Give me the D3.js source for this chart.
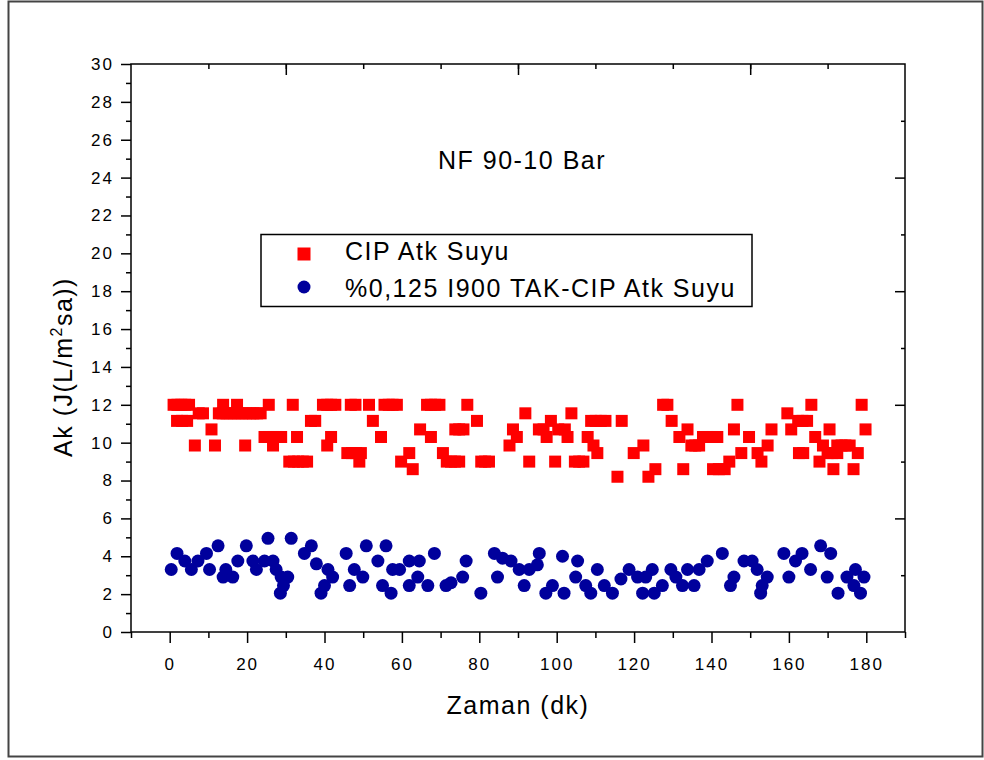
<!DOCTYPE html>
<html>
<head>
<meta charset="utf-8">
<script src="https://cdn.jsdelivr.net/npm/d3@7"></script>
<style>
    body { margin: 0; background: #fff; }
    svg text { font-family: "Liberation Sans", Arial, sans-serif; fill: #000; }
</style>
</head>
<body>
<svg id="chart" width="984" height="760"></svg>
<script>
// tick labels
const xTickLabels = [0, 20, 40, 60, 80, 100, 120, 140, 160, 180];
const yTickLabels = [0, 2, 4, 6, 8, 10, 12, 14, 16, 18, 20, 22, 24, 26, 28, 30];

const chartTitle = "NF 90-10 Bar";
const seriesNames = ["CIP Atk Suyu", "%0,125 I900 TAK-CIP Atk Suyu"];

// CIP Atk Suyu : [zaman (dk), akı]
const cipData = [
    [1, 12.0], [2, 12.0], [3, 12.0], [4, 12.0], [5, 12.0], [13.8, 12.0], [17.4, 12.0], [25.6, 12.0],
    [31.8, 12.0], [39.6, 12.0], [40.7, 12.0], [41.7, 12.0], [42.8, 12.0], [46.8, 12.0], [48, 12.0],
    [51.5, 12.0], [55.5, 12.0], [56.6, 12.0], [57.6, 12.0], [58.7, 12.0], [66.5, 12.0], [67.5, 12.0],
    [68.6, 12.0], [69.7, 12.0], [76.9, 12.0], [127.5, 12.0], [128.6, 12.0], [146.7, 12.0], [165.8, 12.0],
    [178.8, 12.0],
    [7.5, 11.55], [8.6, 11.55], [12.7, 11.55], [13.7, 11.55], [14.7, 11.55], [15.7, 11.55], [16.7, 11.55],
    [17.7, 11.55], [18.7, 11.55], [19.7, 11.55], [20.7, 11.55], [21.6, 11.55], [22.6, 11.55], [23.5, 11.55],
    [91.9, 11.55], [103.8, 11.55], [159.6, 11.55],
    [1.9, 11.15], [3.2, 11.15], [4.5, 11.15], [36.5, 11.15], [37.6, 11.15], [52.5, 11.15], [79.4, 11.15],
    [98.5, 11.15], [108.9, 11.15], [110.1, 11.15], [111.4, 11.15], [112.6, 11.15], [116.8, 11.15],
    [129.7, 11.15], [162.4, 11.15], [163.5, 11.15], [164.7, 11.15],
    [10.8, 10.7], [64.7, 10.7], [73.8, 10.7], [74.8, 10.7], [75.9, 10.7], [88.7, 10.7], [95.4, 10.7],
    [96.6, 10.7], [100.4, 10.7], [102.1, 10.7], [133.8, 10.7], [145.8, 10.7], [155.5, 10.7], [160.6, 10.7],
    [170.5, 10.7], [179.8, 10.7],
    [24.5, 10.3], [25.6, 10.3], [26.7, 10.3], [27.7, 10.3], [28.8, 10.3], [32.9, 10.3], [41.7, 10.3],
    [54.6, 10.3], [67.5, 10.3], [89.7, 10.3], [97.4, 10.3], [102.8, 10.3], [108, 10.3], [131.7, 10.3],
    [137.8, 10.3], [139, 10.3], [140.3, 10.3], [141.5, 10.3], [149.7, 10.3], [166.8, 10.3],
    [6.5, 9.85], [11.7, 9.85], [19.5, 9.85], [26.7, 9.85], [40.7, 9.85], [87.8, 9.85], [109.5, 9.85],
    [122.4, 9.85], [134.8, 9.85], [135.8, 9.85], [136.8, 9.85], [154.5, 9.85], [168.8, 9.85], [172.5, 9.85],
    [173.6, 9.85], [174.6, 9.85], [175.7, 9.85],
    [45.9, 9.45], [47.1, 9.45], [48.2, 9.45], [49.4, 9.45], [61.9, 9.45], [70.6, 9.45], [110.5, 9.45],
    [119.9, 9.45], [147.7, 9.45], [151.9, 9.45], [162.6, 9.45], [163.7, 9.45], [170, 9.45], [171.2, 9.45],
    [172.5, 9.45], [177.8, 9.45],
    [30.9, 9.0], [32.1, 9.0], [33.2, 9.0], [34.4, 9.0], [35.5, 9.0], [49, 9.0], [59.8, 9.0], [71.6, 9.0],
    [72.7, 9.0], [73.7, 9.0], [74.8, 9.0], [80.5, 9.0], [81.5, 9.0], [82.5, 9.0], [92.9, 9.0], [99.6, 9.0],
    [104.7, 9.0], [105.8, 9.0], [106.9, 9.0], [144.6, 9.0], [152.9, 9.0], [167.9, 9.0],
    [62.8, 8.6], [125.5, 8.6], [132.7, 8.6], [140.4, 8.6], [141.9, 8.6], [143.4, 8.6], [171.5, 8.6],
    [176.7, 8.6],
    [115.7, 8.2], [123.7, 8.2]
];

// %0,125 I900 TAK-CIP Atk Suyu : [zaman (dk), akı]
const takData = [
    [0.4, 3.3], [1.9, 4.15], [3.9, 3.75], [5.6, 3.3], [7.3, 3.75], [9.5, 4.15], [10.3, 3.3], [12.5, 4.55],
    [13.8, 2.9], [14.5, 3.3], [16.3, 2.9], [17.6, 3.75], [19.8, 4.55], [21.5, 3.75], [22.4, 3.3],
    [24.5, 3.75], [25.4, 4.95], [26.7, 3.75], [27.5, 3.3], [28.8, 2.9], [28.6, 2.05], [29.4, 2.45],
    [30.5, 2.9], [31.4, 4.95], [34.8, 4.15], [36.6, 4.55], [37.9, 3.6], [39.1, 2.05], [40, 2.45],
    [40.9, 3.3], [42.1, 2.9], [45.6, 4.15], [46.5, 2.45], [47.7, 3.3], [49.9, 2.9], [50.8, 4.55],
    [53.8, 3.75], [55, 2.45], [55.9, 4.55], [57.2, 2.05], [57.6, 3.3],
    [59.4, 3.3], [61.9, 3.75], [61.9, 2.45], [64.1, 2.9], [64.5, 3.75], [66.7, 2.45], [68.4, 4.15],
    [71.4, 2.45], [72.7, 2.6], [75.7, 2.9], [76.6, 3.75], [80.4, 2.05], [83.9, 4.15], [84.7, 2.9],
    [86, 3.9], [88.2, 3.75], [90.3, 3.3], [91.6, 2.45], [92.9, 3.3], [95, 3.55], [95.5, 4.15], [97.2, 2.05],
    [98.9, 2.45], [101.5, 4.0], [101.9, 2.05], [104.9, 2.9], [105.4, 3.75], [107.5, 2.45], [108.8, 2.05],
    [110.5, 3.3], [112.3, 2.45], [114.4, 2.05], [116.6, 2.8], [118.7, 3.3], [120.9, 2.9], [122.2, 2.05],
    [123, 2.9], [124.7, 3.3], [125.2, 2.05], [127.3, 2.45], [129.5, 3.3], [130.8, 2.9], [132.5, 2.45],
    [133.8, 3.3], [135.5, 2.45], [136.8, 3.3], [138.9, 3.75], [142.8, 4.15], [144.9, 2.45], [145.8, 2.9],
    [148.4, 3.75], [150.5, 3.75], [151.8, 3.3], [152.7, 2.05], [153.1, 2.45], [154.4, 2.9], [158.7, 4.15],
    [160, 2.9], [161.7, 3.75], [163.4, 4.15], [165.6, 3.3], [168.2, 4.55], [169.9, 2.9], [170.8, 4.15],
    [172.7, 2.05], [175, 2.9], [176.8, 2.45], [177.2, 3.3], [178.5, 2.05], [179.4, 2.9]
];

const svg = d3.select("#chart");
const plotLeft = 131, plotRight = 905, plotTop = 64, plotBottom = 632;

const x = d3.scaleLinear().domain([-10, 190]).range([plotLeft, plotRight]);
const y = d3.scaleLinear().domain([0, 30]).range([plotBottom, plotTop]);

// outer frame
svg.append("rect")
    .attr("x", 8.5).attr("y", 1.5)
    .attr("width", 974).attr("height", 755)
    .attr("fill", "none")
    .attr("stroke", "#444")
    .attr("stroke-width", 2);

// data
svg.append("g")
    .selectAll("rect")
    .data(cipData)
    .enter().append("rect")
    .attr("x", d => x(d[0]) - 6)
    .attr("y", d => y(d[1]) - 6)
    .attr("width", 12)
    .attr("height", 12)
    .attr("fill", "#ff0000");

svg.append("g")
    .selectAll("circle")
    .data(takData)
    .enter().append("circle")
    .attr("cx", d => x(d[0]))
    .attr("cy", d => y(d[1]))
    .attr("r", 6.5)
    .attr("fill", "#00009c");

function cleanAxis(g) {
    g.select(".domain").remove();
    g.selectAll("line").attr("stroke", "#000").attr("stroke-width", 1.5);
    g.selectAll("text")
        .style("font-size", "17px")
        .style("letter-spacing", "2px")
        .attr("fill", "#000");
}

// bottom axis
svg.append("g")
    .attr("transform", `translate(0,${plotBottom})`)
    .call(d3.axisBottom(x).tickValues(d3.range(-10, 191, 20)).tickSize(6).tickFormat(""))
    .call(cleanAxis);
svg.append("g")
    .attr("transform", `translate(0,${plotBottom})`)
    .call(d3.axisBottom(x).tickValues(xTickLabels).tickSize(11).tickFormat(d3.format("d")))
    .call(cleanAxis)
    .call(g => g.selectAll("text").attr("y", 38).attr("dy", 0));

// left axis
svg.append("g")
    .attr("transform", `translate(${plotLeft},0)`)
    .call(d3.axisLeft(y).tickValues(d3.range(1, 30, 2)).tickSize(5).tickFormat(""))
    .call(cleanAxis);
svg.append("g")
    .attr("transform", `translate(${plotLeft},0)`)
    .call(d3.axisLeft(y).tickValues(yTickLabels).tickSize(10).tickFormat(d3.format("d")))
    .call(cleanAxis)
    .call(g => g.selectAll("text").attr("x", -17));

// top axis, ticks inside
svg.append("g")
    .attr("transform", `translate(0,${plotTop})`)
    .call(d3.axisTop(x).tickValues(d3.range(10, 171, 20)).tickSize(-5).tickFormat(""))
    .call(cleanAxis);
svg.append("g")
    .attr("transform", `translate(0,${plotTop})`)
    .call(d3.axisTop(x).tickValues([30, 90, 150]).tickSize(-11).tickFormat(""))
    .call(cleanAxis);

// right axis, ticks inside
svg.append("g")
    .attr("transform", `translate(${plotRight},0)`)
    .call(d3.axisRight(y).tickValues(d3.range(3, 30, 6)).tickSize(-4).tickFormat(""))
    .call(cleanAxis);
svg.append("g")
    .attr("transform", `translate(${plotRight},0)`)
    .call(d3.axisRight(y).tickValues([6, 12, 18, 24]).tickSize(-10).tickFormat(""))
    .call(cleanAxis);

// plot frame
svg.append("rect")
    .attr("x", plotLeft).attr("y", plotTop)
    .attr("width", plotRight - plotLeft).attr("height", plotBottom - plotTop)
    .attr("fill", "none")
    .attr("stroke", "#000")
    .attr("stroke-width", 1.5);

// title
svg.append("text")
    .attr("x", 522).attr("y", 169)
    .attr("text-anchor", "middle")
    .style("font-size", "25px")
    .style("letter-spacing", "1.5px")
    .text(chartTitle);

// legend
const legend = svg.append("g");
legend.append("rect")
    .attr("x", 261).attr("y", 234.5)
    .attr("width", 491).attr("height", 72)
    .attr("fill", "#fff")
    .attr("stroke", "#000")
    .attr("stroke-width", 1.5);
legend.append("rect")
    .attr("x", 297.5).attr("y", 247.5)
    .attr("width", 13).attr("height", 13)
    .attr("fill", "#ff0000");
legend.append("circle")
    .attr("cx", 304).attr("cy", 287)
    .attr("r", 6.5)
    .attr("fill", "#00009c");
legend.selectAll("text.lbl")
    .data(seriesNames)
    .enter().append("text")
    .attr("class", "lbl")
    .attr("x", 345)
    .attr("y", (d, i) => 260 + i * 36.5)
    .style("font-size", "25px")
    .style("letter-spacing", "1.5px")
    .text(d => d);

// axis titles
svg.append("text")
    .attr("x", 518).attr("y", 714)
    .attr("text-anchor", "middle")
    .style("font-size", "25px")
    .style("letter-spacing", "1.5px")
    .text("Zaman (dk)");

const yTitle = svg.append("text")
    .attr("transform", "translate(72,367) rotate(-90)")
    .attr("text-anchor", "middle")
    .style("font-size", "25px")
    .style("letter-spacing", "1.5px");
yTitle.append("tspan").text("Ak (J(L/m");
yTitle.append("tspan").attr("dy", -10).style("font-size", "16px").text("2");
yTitle.append("tspan").attr("dy", 10).text("sa))");
</script>
</body>
</html>
